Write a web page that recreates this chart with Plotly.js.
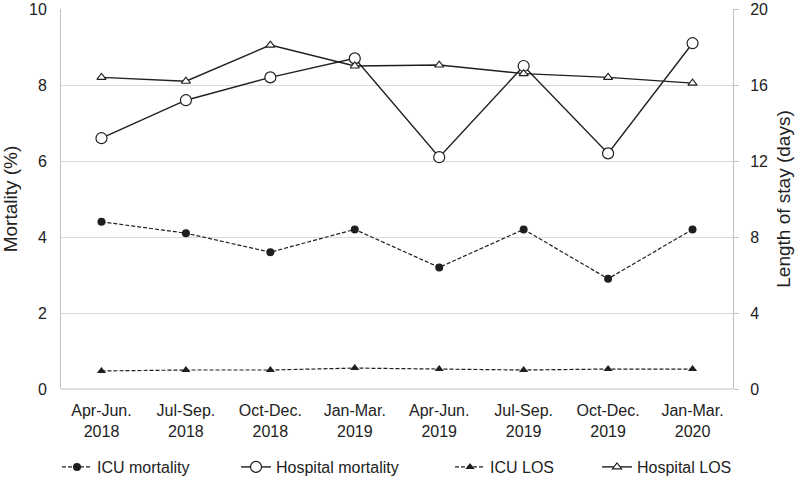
<!DOCTYPE html>
<html><head><meta charset="utf-8">
<script src="https://cdn.plot.ly/plotly-3.0.1.min.js"></script>
<style>html,body{margin:0;padding:0;background:#fff}#chart{width:797px;height:478px}</style>
</head><body><div id="chart"></div>
<script>
const categories = ["Apr-Jun.<br>2018","Jul-Sep.<br>2018","Oct-Dec.<br>2018","Jan-Mar.<br>2019","Apr-Jun.<br>2019","Jul-Sep.<br>2019","Oct-Dec.<br>2019","Jan-Mar.<br>2020"];
const icuMortality = [4.4, 4.1, 3.6, 4.2, 3.2, 4.2, 2.9, 4.2];
const hospitalMortality = [6.6, 7.6, 8.2, 8.7, 6.1, 8.5, 6.2, 9.1];
const icuLOS = [0.95, 1.0, 1.0, 1.1, 1.05, 1.0, 1.05, 1.05];
const hospitalLOS = [16.4, 16.2, 18.1, 17.0, 17.05, 16.6, 16.4, 16.1];

const ink = '#1f1f1f';
const traces = [
  {x: categories, y: icuMortality, name: 'ICU mortality', legend: 'legend', type: 'scatter', mode: 'lines+markers',
   line: {color: ink, width: 1.2, dash: '4px,2px'}, marker: {symbol: 'circle', size: 8, color: ink}},
  {x: categories, y: hospitalMortality, name: 'Hospital mortality', legend: 'legend2', type: 'scatter', mode: 'lines+markers',
   line: {color: ink, width: 1.4}, marker: {symbol: 'circle', size: 11, color: '#fff', line: {color: ink, width: 1.2}}},
  {x: categories, y: icuLOS, name: 'ICU LOS', legend: 'legend3', yaxis: 'y2', type: 'scatter', mode: 'lines+markers',
   line: {color: ink, width: 1.2, dash: '4px,2px'}, marker: {symbol: 'triangle-up', size: 8, color: ink}},
  {x: categories, y: hospitalLOS, name: 'Hospital LOS', legend: 'legend4', yaxis: 'y2', type: 'scatter', mode: 'lines+markers',
   line: {color: ink, width: 1.4}, marker: {symbol: 'triangle-up', size: 8, color: '#fff', line: {color: ink, width: 1.1}}}
];
const font = {family: 'Liberation Sans, Arial, sans-serif', size: 16, color: '#222'};
const titleFont = {family: 'Liberation Sans, Arial, sans-serif', size: 19, color: '#222'};
function leg(px) {
  return {orientation: 'h', xref: 'container', yref: 'container', x: px / 797, xanchor: 'left',
          y: 11 / 478, yanchor: 'middle', font: font, bgcolor: 'rgba(0,0,0,0)'};
}
const layout = {
  width: 797, height: 478,
  margin: {l: 61, r: 64, t: 9, b: 89},
  paper_bgcolor: '#fff', plot_bgcolor: '#fff',
  font: font,
  showlegend: true,
  legend: leg(57), legend2: leg(236), legend3: leg(450), legend4: leg(597),
  xaxis: {type: 'category', showgrid: false, zeroline: false, showline: false, ticks: '', tickfont: font, tickangle: 0,
          automargin: false, ticklabelstandoff: 10},
  yaxis: {range: [0, 10], dtick: 2, showgrid: true, gridcolor: '#d9d9d9', gridwidth: 1, zeroline: false,
          showline: true, linecolor: '#bfbfbf', linewidth: 1, ticks: '', tickfont: font, automargin: false,
          ticklabelstandoff: 10,
          title: {text: 'Mortality (%)', font: titleFont, standoff: 8}},
  yaxis2: {range: [0, 20], dtick: 4, overlaying: 'y', side: 'right', showgrid: false, zeroline: false,
           showline: true, linecolor: '#bfbfbf', linewidth: 1, ticks: 'outside', ticklen: 5, tickcolor: '#bfbfbf', tickfont: font,
           automargin: false, ticklabelstandoff: 8,
           title: {text: 'Length of stay (days)', font: titleFont, standoff: 9}},
  shapes: [{type: 'line', xref: 'paper', yref: 'paper', x0: 0, x1: 1, y0: 0, y1: 0, line: {color: '#bfbfbf', width: 1}}]
};
Plotly.newPlot('chart', traces, layout, {displayModeBar: false, staticPlot: true});
</script></body></html>
